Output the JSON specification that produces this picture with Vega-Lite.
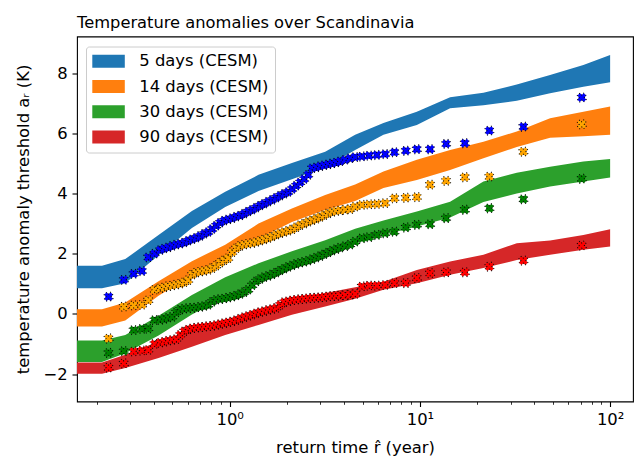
{
 "$schema": "https://vega.github.io/schema/vega-lite/v6.json",
 "width": 556,
 "height": 365,
 "autosize": "none",
 "padding": {"left": 77, "top": 36.5, "right": 6, "bottom": 58.5},
 "background": "white",
 "title": {"text": "Temperature anomalies over Scandinavia", "anchor": "start", "frame": "group", "fontSize": 16.3, "fontWeight": "normal", "font": "DejaVu Sans", "color": "black", "offset": 5},
 "config": {
  "view": {"stroke": "black", "strokeWidth": 1.1},
  "font": "DejaVu Sans",
  "axis": {"domain": false, "grid": false, "ticks": true, "tickColor": "black", "tickWidth": 1.1, "labelFont": "DejaVu Sans", "labelFontSize": 16.4, "labelColor": "black", "labelPadding": 4.9, "titleFont": "DejaVu Sans", "titleFontSize": 16.4, "titleFontWeight": "normal", "titleColor": "black"},
  "axisX": {"titlePadding": 12},
  "axisY": {"titlePadding": 11}
 },
 "datasets": {
  "bands": [
   {"s":"5","r":0.15,"hi":1.60,"lo":0.85},{"s":"5","r":0.213,"hi":1.60,"lo":0.85},{"s":"5","r":0.2824,"hi":1.82,"lo":1.02},{"s":"5","r":0.4224,"hi":2.62,"lo":1.95},{"s":"5","r":0.6327,"hi":3.42,"lo":2.85},{"s":"5","r":0.9471,"hi":4.06,"lo":3.55},{"s":"5","r":1.417,"hi":4.62,"lo":4.08},{"s":"5","r":2.123,"hi":5.01,"lo":4.47},{"s":"5","r":3.176,"hi":5.39,"lo":4.87},{"s":"5","r":4.565,"hi":5.95,"lo":5.45},{"s":"5","r":6.43,"hi":6.34,"lo":5.95},{"s":"5","r":9.63,"hi":6.72,"lo":6.28},{"s":"5","r":14.41,"hi":7.20,"lo":6.83},{"s":"5","r":21.57,"hi":7.35,"lo":6.93},{"s":"5","r":32.3,"hi":7.62,"lo":7.08},{"s":"5","r":48.33,"hi":7.94,"lo":7.33},{"s":"5","r":72.32,"hi":8.27,"lo":7.55},{"s":"5","r":100,"hi":8.60,"lo":7.70},
   {"s":"14","r":0.15,"hi":0.15,"lo":-0.42},{"s":"14","r":0.213,"hi":0.15,"lo":-0.42},{"s":"14","r":0.2824,"hi":0.38,"lo":-0.22},{"s":"14","r":0.4224,"hi":1.08,"lo":0.60},{"s":"14","r":0.6327,"hi":1.75,"lo":1.28},{"s":"14","r":0.9471,"hi":2.30,"lo":1.82},{"s":"14","r":1.417,"hi":3.00,"lo":2.50},{"s":"14","r":2.123,"hi":3.50,"lo":3.05},{"s":"14","r":3.176,"hi":3.95,"lo":3.45},{"s":"14","r":4.565,"hi":4.30,"lo":3.75},{"s":"14","r":6.43,"hi":4.73,"lo":4.18},{"s":"14","r":9.63,"hi":5.12,"lo":4.45},{"s":"14","r":14.41,"hi":5.45,"lo":4.78},{"s":"14","r":21.57,"hi":5.72,"lo":5.17},{"s":"14","r":32.3,"hi":6.06,"lo":5.55},{"s":"14","r":48.33,"hi":6.50,"lo":5.85},{"s":"14","r":72.32,"hi":6.72,"lo":5.90},{"s":"14","r":100,"hi":6.89,"lo":5.95},
   {"s":"30","r":0.15,"hi":-0.89,"lo":-1.60},{"s":"30","r":0.213,"hi":-0.89,"lo":-1.60},{"s":"30","r":0.2824,"hi":-0.70,"lo":-1.31},{"s":"30","r":0.4224,"hi":-0.06,"lo":-0.72},{"s":"30","r":0.6327,"hi":0.63,"lo":-0.02},{"s":"30","r":0.9471,"hi":1.22,"lo":0.57},{"s":"30","r":1.417,"hi":1.68,"lo":1.02},{"s":"30","r":2.123,"hi":2.08,"lo":1.48},{"s":"30","r":3.176,"hi":2.45,"lo":1.90},{"s":"30","r":4.565,"hi":2.83,"lo":2.35},{"s":"30","r":6.43,"hi":3.10,"lo":2.62},{"s":"30","r":9.63,"hi":3.40,"lo":2.90},{"s":"30","r":14.41,"hi":3.73,"lo":3.20},{"s":"30","r":21.57,"hi":4.40,"lo":3.72},{"s":"30","r":32.3,"hi":4.69,"lo":4.00},{"s":"30","r":48.33,"hi":4.89,"lo":4.23},{"s":"30","r":72.32,"hi":5.06,"lo":4.40},{"s":"30","r":100,"hi":5.15,"lo":4.53},
   {"s":"90","r":0.15,"hi":-1.62,"lo":-1.99},{"s":"90","r":0.213,"hi":-1.62,"lo":-1.99},{"s":"90","r":0.2824,"hi":-1.36,"lo":-1.80},{"s":"90","r":0.4224,"hi":-0.92,"lo":-1.47},{"s":"90","r":0.6327,"hi":-0.53,"lo":-1.09},{"s":"90","r":0.9471,"hi":-0.29,"lo":-0.70},{"s":"90","r":1.417,"hi":0.04,"lo":-0.37},{"s":"90","r":2.123,"hi":0.43,"lo":-0.03},{"s":"90","r":3.176,"hi":0.69,"lo":0.24},{"s":"90","r":4.565,"hi":0.88,"lo":0.50},{"s":"90","r":6.43,"hi":1.07,"lo":0.80},{"s":"90","r":9.63,"hi":1.46,"lo":1.02},{"s":"90","r":14.41,"hi":1.74,"lo":1.30},{"s":"90","r":21.57,"hi":1.96,"lo":1.52},{"s":"90","r":32.3,"hi":2.35,"lo":1.79},{"s":"90","r":48.33,"hi":2.44,"lo":1.96},{"s":"90","r":72.32,"hi":2.62,"lo":2.13},{"s":"90","r":100,"hi":2.81,"lo":2.24}
  ],
  "pts": [
   {"s":"5","r":0.2307,"a":0.57},{"s":"5","r":0.2773,"a":1.13},{"s":"5","r":0.3123,"a":1.33},{"s":"5","r":0.3456,"a":1.42},{"s":"5","r":0.3730,"a":1.88},{"s":"5","r":0.4025,"a":2.00},{"s":"5","r":0.4313,"a":2.12},{"s":"5","r":0.4526,"a":2.17},{"s":"5","r":0.4750,"a":2.21},{"s":"5","r":0.4986,"a":2.26},{"s":"5","r":0.5234,"a":2.30},{"s":"5","r":0.5494,"a":2.33},{"s":"5","r":0.5766,"a":2.37},{"s":"5","r":0.6052,"a":2.43},{"s":"5","r":0.6353,"a":2.48},{"s":"5","r":0.6668,"a":2.53},{"s":"5","r":0.6998,"a":2.59},{"s":"5","r":0.7345,"a":2.66},{"s":"5","r":0.7709,"a":2.72},{"s":"5","r":0.8092,"a":2.82},{"s":"5","r":0.8493,"a":2.93},{"s":"5","r":0.8914,"a":3.03},{"s":"5","r":0.9357,"a":3.10},{"s":"5","r":0.9820,"a":3.14},{"s":"5","r":1.031,"a":3.18},{"s":"5","r":1.082,"a":3.23},{"s":"5","r":1.136,"a":3.27},{"s":"5","r":1.192,"a":3.33},{"s":"5","r":1.251,"a":3.40},{"s":"5","r":1.313,"a":3.46},{"s":"5","r":1.378,"a":3.53},{"s":"5","r":1.447,"a":3.60},{"s":"5","r":1.518,"a":3.66},{"s":"5","r":1.594,"a":3.73},{"s":"5","r":1.673,"a":3.79},{"s":"5","r":1.756,"a":3.86},{"s":"5","r":1.843,"a":3.93},{"s":"5","r":1.934,"a":3.99},{"s":"5","r":2.030,"a":4.05},{"s":"5","r":2.131,"a":4.15},{"s":"5","r":2.237,"a":4.26},{"s":"5","r":2.348,"a":4.37},{"s":"5","r":2.464,"a":4.48},{"s":"5","r":2.587,"a":4.62},{"s":"5","r":2.715,"a":4.84},{"s":"5","r":2.850,"a":4.87},{"s":"5","r":2.991,"a":4.91},{"s":"5","r":3.139,"a":4.94},{"s":"5","r":3.295,"a":4.97},{"s":"5","r":3.459,"a":5.00},{"s":"5","r":3.630,"a":5.03},{"s":"5","r":3.810,"a":5.07},{"s":"5","r":4.046,"a":5.12},{"s":"5","r":4.298,"a":5.17},{"s":"5","r":4.565,"a":5.21},{"s":"5","r":4.952,"a":5.23},{"s":"5","r":5.409,"a":5.26},{"s":"5","r":5.935,"a":5.28},{"s":"5","r":6.563,"a":5.31},{"s":"5","r":7.345,"a":5.37},{"s":"5","r":8.432,"a":5.42},{"s":"5","r":9.632,"a":5.47},{"s":"5","r":11.31,"a":5.47},{"s":"5","r":13.73,"a":5.65},{"s":"5","r":17.22,"a":5.67},{"s":"5","r":23.19,"a":6.09},{"s":"5","r":34.99,"a":6.22},{"s":"5","r":70.93,"a":7.19},
   {"s":"14","r":0.2307,"a":-0.82},{"s":"14","r":0.2773,"a":0.24},{"s":"14","r":0.3123,"a":0.28},{"s":"14","r":0.3456,"a":0.30},{"s":"14","r":0.3730,"a":0.45},{"s":"14","r":0.4025,"a":0.80},{"s":"14","r":0.4313,"a":0.85},{"s":"14","r":0.4526,"a":0.88},{"s":"14","r":0.4750,"a":0.92},{"s":"14","r":0.4986,"a":0.94},{"s":"14","r":0.5234,"a":0.97},{"s":"14","r":0.5494,"a":1.00},{"s":"14","r":0.5766,"a":1.05},{"s":"14","r":0.6052,"a":1.12},{"s":"14","r":0.6353,"a":1.30},{"s":"14","r":0.6668,"a":1.37},{"s":"14","r":0.6998,"a":1.40},{"s":"14","r":0.7345,"a":1.43},{"s":"14","r":0.7709,"a":1.46},{"s":"14","r":0.8092,"a":1.52},{"s":"14","r":0.8493,"a":1.60},{"s":"14","r":0.8914,"a":1.70},{"s":"14","r":0.9357,"a":1.78},{"s":"14","r":0.9820,"a":1.85},{"s":"14","r":1.031,"a":2.05},{"s":"14","r":1.082,"a":2.18},{"s":"14","r":1.136,"a":2.26},{"s":"14","r":1.192,"a":2.30},{"s":"14","r":1.251,"a":2.33},{"s":"14","r":1.313,"a":2.35},{"s":"14","r":1.378,"a":2.39},{"s":"14","r":1.447,"a":2.43},{"s":"14","r":1.518,"a":2.47},{"s":"14","r":1.594,"a":2.52},{"s":"14","r":1.673,"a":2.57},{"s":"14","r":1.756,"a":2.63},{"s":"14","r":1.843,"a":2.68},{"s":"14","r":1.934,"a":2.72},{"s":"14","r":2.030,"a":2.76},{"s":"14","r":2.131,"a":2.81},{"s":"14","r":2.237,"a":2.88},{"s":"14","r":2.348,"a":2.95},{"s":"14","r":2.464,"a":3.00},{"s":"14","r":2.587,"a":3.06},{"s":"14","r":2.715,"a":3.11},{"s":"14","r":2.850,"a":3.16},{"s":"14","r":2.991,"a":3.22},{"s":"14","r":3.139,"a":3.28},{"s":"14","r":3.295,"a":3.34},{"s":"14","r":3.459,"a":3.39},{"s":"14","r":3.630,"a":3.42},{"s":"14","r":3.810,"a":3.44},{"s":"14","r":4.046,"a":3.46},{"s":"14","r":4.298,"a":3.48},{"s":"14","r":4.565,"a":3.56},{"s":"14","r":4.952,"a":3.62},{"s":"14","r":5.409,"a":3.64},{"s":"14","r":5.935,"a":3.65},{"s":"14","r":6.563,"a":3.68},{"s":"14","r":7.345,"a":3.84},{"s":"14","r":8.432,"a":3.86},{"s":"14","r":9.632,"a":3.88},{"s":"14","r":11.31,"a":4.29},{"s":"14","r":13.73,"a":4.42},{"s":"14","r":17.22,"a":4.54},{"s":"14","r":23.19,"a":4.56},{"s":"14","r":34.99,"a":5.39},{"s":"14","r":70.93,"a":6.30},
   {"s":"30","r":0.2307,"a":-1.30},{"s":"30","r":0.2773,"a":-1.24},{"s":"30","r":0.3123,"a":-0.54},{"s":"30","r":0.3456,"a":-0.50},{"s":"30","r":0.3730,"a":-0.49},{"s":"30","r":0.4025,"a":-0.21},{"s":"30","r":0.4313,"a":-0.20},{"s":"30","r":0.4526,"a":-0.17},{"s":"30","r":0.4750,"a":-0.13},{"s":"30","r":0.4986,"a":-0.10},{"s":"30","r":0.5234,"a":0.05},{"s":"30","r":0.5494,"a":0.14},{"s":"30","r":0.5766,"a":0.17},{"s":"30","r":0.6052,"a":0.19},{"s":"30","r":0.6353,"a":0.20},{"s":"30","r":0.6668,"a":0.21},{"s":"30","r":0.6998,"a":0.23},{"s":"30","r":0.7345,"a":0.26},{"s":"30","r":0.7709,"a":0.30},{"s":"30","r":0.8092,"a":0.40},{"s":"30","r":0.8493,"a":0.47},{"s":"30","r":0.8914,"a":0.49},{"s":"30","r":0.9357,"a":0.51},{"s":"30","r":0.9820,"a":0.54},{"s":"30","r":1.031,"a":0.57},{"s":"30","r":1.082,"a":0.61},{"s":"30","r":1.136,"a":0.66},{"s":"30","r":1.192,"a":0.72},{"s":"30","r":1.251,"a":0.80},{"s":"30","r":1.313,"a":0.95},{"s":"30","r":1.378,"a":1.08},{"s":"30","r":1.447,"a":1.16},{"s":"30","r":1.518,"a":1.22},{"s":"30","r":1.594,"a":1.26},{"s":"30","r":1.673,"a":1.31},{"s":"30","r":1.756,"a":1.37},{"s":"30","r":1.843,"a":1.44},{"s":"30","r":1.934,"a":1.50},{"s":"30","r":2.030,"a":1.56},{"s":"30","r":2.131,"a":1.61},{"s":"30","r":2.237,"a":1.66},{"s":"30","r":2.348,"a":1.70},{"s":"30","r":2.464,"a":1.73},{"s":"30","r":2.587,"a":1.77},{"s":"30","r":2.715,"a":1.82},{"s":"30","r":2.850,"a":1.87},{"s":"30","r":2.991,"a":1.92},{"s":"30","r":3.139,"a":1.98},{"s":"30","r":3.295,"a":2.04},{"s":"30","r":3.459,"a":2.10},{"s":"30","r":3.630,"a":2.15},{"s":"30","r":3.810,"a":2.20},{"s":"30","r":4.046,"a":2.25},{"s":"30","r":4.298,"a":2.30},{"s":"30","r":4.565,"a":2.40},{"s":"30","r":4.952,"a":2.51},{"s":"30","r":5.409,"a":2.55},{"s":"30","r":5.935,"a":2.62},{"s":"30","r":6.563,"a":2.68},{"s":"30","r":7.345,"a":2.73},{"s":"30","r":8.432,"a":2.87},{"s":"30","r":9.632,"a":2.96},{"s":"30","r":11.31,"a":2.98},{"s":"30","r":13.73,"a":3.18},{"s":"30","r":17.22,"a":3.46},{"s":"30","r":23.19,"a":3.51},{"s":"30","r":34.99,"a":3.81},{"s":"30","r":70.93,"a":4.49},
   {"s":"90","r":0.2307,"a":-1.79},{"s":"90","r":0.2773,"a":-1.65},{"s":"90","r":0.3123,"a":-1.25},{"s":"90","r":0.3456,"a":-1.22},{"s":"90","r":0.3730,"a":-1.20},{"s":"90","r":0.4025,"a":-1.00},{"s":"90","r":0.4313,"a":-0.96},{"s":"90","r":0.4526,"a":-0.93},{"s":"90","r":0.4750,"a":-0.89},{"s":"90","r":0.4986,"a":-0.87},{"s":"90","r":0.5234,"a":-0.84},{"s":"90","r":0.5494,"a":-0.70},{"s":"90","r":0.5766,"a":-0.58},{"s":"90","r":0.6052,"a":-0.52},{"s":"90","r":0.6353,"a":-0.48},{"s":"90","r":0.6668,"a":-0.46},{"s":"90","r":0.6998,"a":-0.44},{"s":"90","r":0.7345,"a":-0.43},{"s":"90","r":0.7709,"a":-0.41},{"s":"90","r":0.8092,"a":-0.40},{"s":"90","r":0.8493,"a":-0.37},{"s":"90","r":0.8914,"a":-0.34},{"s":"90","r":0.9357,"a":-0.31},{"s":"90","r":0.9820,"a":-0.28},{"s":"90","r":1.031,"a":-0.25},{"s":"90","r":1.082,"a":-0.21},{"s":"90","r":1.136,"a":-0.16},{"s":"90","r":1.192,"a":-0.11},{"s":"90","r":1.251,"a":-0.07},{"s":"90","r":1.313,"a":-0.03},{"s":"90","r":1.378,"a":0.02},{"s":"90","r":1.447,"a":0.06},{"s":"90","r":1.518,"a":0.09},{"s":"90","r":1.594,"a":0.13},{"s":"90","r":1.673,"a":0.16},{"s":"90","r":1.756,"a":0.20},{"s":"90","r":1.843,"a":0.30},{"s":"90","r":1.934,"a":0.39},{"s":"90","r":2.030,"a":0.42},{"s":"90","r":2.131,"a":0.45},{"s":"90","r":2.237,"a":0.47},{"s":"90","r":2.348,"a":0.49},{"s":"90","r":2.464,"a":0.50},{"s":"90","r":2.587,"a":0.52},{"s":"90","r":2.715,"a":0.53},{"s":"90","r":2.850,"a":0.54},{"s":"90","r":2.991,"a":0.55},{"s":"90","r":3.139,"a":0.56},{"s":"90","r":3.295,"a":0.58},{"s":"90","r":3.459,"a":0.59},{"s":"90","r":3.630,"a":0.60},{"s":"90","r":3.810,"a":0.61},{"s":"90","r":4.046,"a":0.62},{"s":"90","r":4.298,"a":0.64},{"s":"90","r":4.565,"a":0.66},{"s":"90","r":4.952,"a":0.91},{"s":"90","r":5.409,"a":0.94},{"s":"90","r":5.935,"a":0.94},{"s":"90","r":6.563,"a":0.96},{"s":"90","r":7.345,"a":1.02},{"s":"90","r":8.432,"a":1.02},{"s":"90","r":9.632,"a":1.19},{"s":"90","r":11.31,"a":1.35},{"s":"90","r":13.73,"a":1.38},{"s":"90","r":17.22,"a":1.38},{"s":"90","r":23.19,"a":1.57},{"s":"90","r":34.99,"a":1.77},{"s":"90","r":70.93,"a":2.27}
  ]
 },
 "layer": [
  {
   "data": {"name": "bands"},
   "mark": {"type": "area", "clip": true, "opacity": 1},
   "encoding": {
    "x": {"field": "r", "type": "quantitative", "title": "return time r̂ (year)",
          "scale": {"type": "log", "domain": [0.1574, 131.9], "nice": false},
          "axis": {"orient": "bottom", "values": [1, 10, 100], "tickSize": 5, "labelExpr": "datum.value == 1 ? '10⁰' : datum.value == 10 ? '10¹' : '10²'"}},
    "y": {"field": "hi", "type": "quantitative", "title": "temperature anomaly threshold aᵣ (K)",
          "scale": {"domain": [-2.914, 9.219], "nice": false, "zero": false},
          "axis": {"values": [-2, 0, 2, 4, 6, 8], "tickSize": 5}},
    "y2": {"field": "lo"},
    "fill": {"field": "s", "type": "nominal",
             "scale": {"domain": ["5", "14", "30", "90"], "range": ["#1f77b4", "#ff7f0e", "#2ca02c", "#d62728"]},
             "legend": {"title": null, "orient": "none", "legendX": 9, "legendY": 10, "symbolType": "M-2.5,-1H2.5V1H-2.5Z", "symbolSize": 169, "symbolStrokeWidth": 0, "symbolOpacity": 1, "symbolOffset": 7.85, "labelOffset": 22.5, "rowPadding": 8.3, "padding": 6.5, "labelFont": "DejaVu Sans", "labelFontSize": 16.4, "labelColor": "black", "fillColor": "rgba(255,255,255,0.8)", "strokeColor": "#cccccc", "cornerRadius": 3, "labelExpr": "datum.label + ' days (CESM)'"}}
   }
  },
  {
   "data": {"name": "pts"},
   "mark": {"type": "point", "shape": "cross", "angle": 45, "filled": true, "size": 81, "opacity": 1, "stroke": "black", "strokeWidth": 1, "strokeDash": [1, 2]},
   "encoding": {
    "x": {"field": "r", "type": "quantitative", "title": null,
          "scale": {"type": "log", "domain": [0.1574, 131.9], "nice": false},
          "axis": {"orient": "bottom", "values": [0.2, 0.3, 0.4, 0.5, 0.6, 0.7, 0.8, 0.9, 2, 3, 4, 5, 6, 7, 8, 9, 20, 30, 40, 50, 60, 70, 80, 90], "labels": false, "tickSize": 2.8, "tickWidth": 0.8, "title": null}},
    "y": {"field": "a", "type": "quantitative", "title": "temperature anomaly threshold aᵣ (K)",
          "scale": {"domain": [-2.914, 9.219], "nice": false, "zero": false}},
    "fill": {"field": "s", "type": "nominal",
             "scale": {"domain": ["5", "14", "30", "90"], "range": ["#0000ff", "#ffa500", "#008000", "#ff0000"]},
             "legend": null}
   }
  }
 ],
 "resolve": {"scale": {"fill": "independent"}, "axis": {"x": "independent"}}
}
